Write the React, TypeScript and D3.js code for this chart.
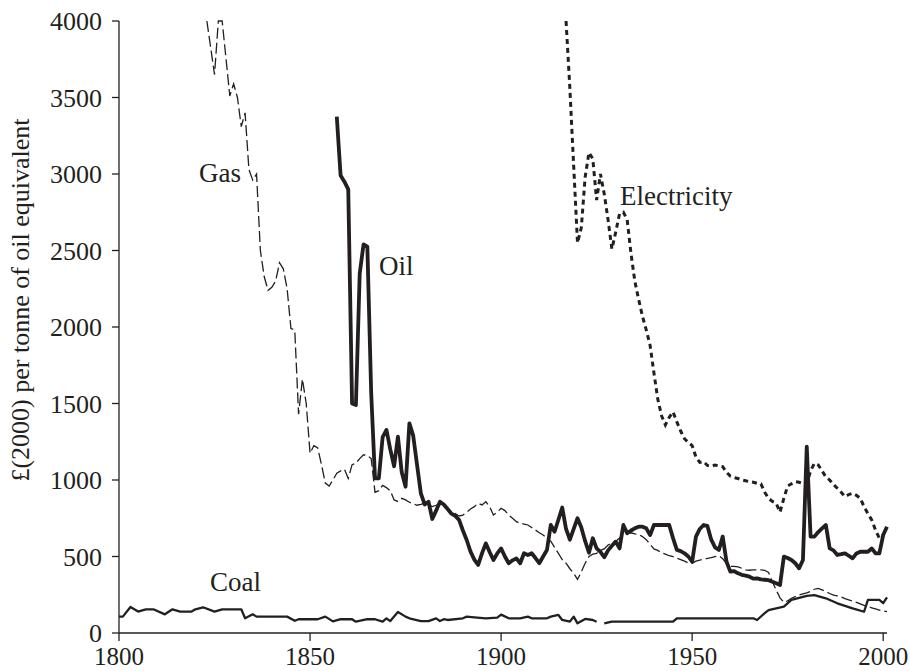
import React from "react";
import * as d3 from "d3";

const xTicks = [1800, 1850, 1900, 1950, 2000];
const yTicks = [0, 500, 1000, 1500, 2000, 2500, 3000, 3500, 4000];

const gasData: [number, number][] = [
  [1823, 4000], [1825, 3650], [1826, 4000], [1827, 4000], [1829, 3510], [1830, 3590], [1831, 3500],
  [1832, 3310], [1833, 3400], [1834, 3030], [1835, 2960], [1836, 3000], [1837, 2500], [1838, 2330],
  [1839, 2240], [1840, 2260], [1841, 2300], [1842, 2420], [1843, 2380], [1844, 2250], [1845, 1990],
  [1846, 1980], [1847, 1430], [1848, 1660], [1849, 1500], [1850, 1175], [1851, 1225], [1852, 1210],
  [1853, 1100], [1854, 980], [1855, 960], [1856, 1000], [1857, 1045], [1858, 1060], [1859, 1070],
  [1860, 1010], [1861, 1100], [1862, 1110], [1863, 1140], [1864, 1165], [1865, 1160], [1866, 1140],
  [1867, 920], [1868, 930], [1869, 965], [1870, 950], [1871, 930], [1872, 870], [1873, 860],
  [1874, 880], [1875, 870], [1876, 855], [1877, 845], [1878, 835], [1879, 840], [1880, 848],
  [1881, 838], [1882, 826], [1883, 835], [1884, 845], [1885, 840], [1886, 815], [1887, 795],
  [1888, 780], [1889, 765], [1890, 771], [1891, 790], [1892, 810], [1893, 826], [1894, 848],
  [1895, 837], [1896, 858], [1897, 826], [1898, 771], [1899, 790], [1900, 815], [1901, 800],
  [1902, 771], [1903, 750], [1904, 728], [1905, 717], [1906, 712], [1907, 706], [1908, 690],
  [1909, 673], [1910, 655], [1911, 641], [1912, 620], [1913, 600], [1914, 560], [1915, 520],
  [1916, 480], [1917, 456], [1918, 420], [1919, 390], [1920, 350], [1921, 400], [1922, 456],
  [1923, 500], [1924, 515], [1925, 521], [1926, 540], [1927, 550], [1928, 575], [1929, 590],
  [1930, 600], [1931, 620], [1932, 635], [1933, 652], [1934, 655], [1935, 648], [1936, 645],
  [1937, 630], [1938, 610], [1939, 580], [1940, 550], [1941, 540], [1942, 525], [1943, 515],
  [1944, 505], [1945, 499], [1946, 490], [1947, 480], [1948, 470], [1949, 458], [1950, 456],
  [1951, 470], [1952, 477], [1953, 482], [1954, 488], [1955, 492], [1956, 499], [1957, 505],
  [1958, 485], [1959, 455], [1960, 435], [1961, 435], [1962, 432], [1963, 423], [1964, 412],
  [1965, 410], [1966, 412], [1967, 412], [1968, 412], [1969, 410], [1970, 395], [1971, 335],
  [1972, 280], [1973, 230], [1974, 200], [1975, 210], [1976, 227], [1977, 238], [1978, 248],
  [1979, 255], [1980, 262], [1981, 272], [1982, 286], [1983, 292], [1984, 282], [1985, 270],
  [1986, 258], [1987, 248], [1988, 242], [1989, 236], [1990, 225], [1991, 216], [1992, 208],
  [1993, 200], [1994, 190], [1995, 180], [1996, 172], [1997, 165], [1998, 158], [1999, 150],
  [2000, 145], [2001, 139],
];

const oilData: [number, number][] = [
  [1857, 3375], [1858, 2990], [1859, 2950], [1860, 2900], [1861, 1500], [1862, 1490], [1863, 2350],
  [1864, 2540], [1865, 2525], [1866, 1570], [1867, 1011], [1868, 1011], [1869, 1280], [1870, 1327],
  [1871, 1200], [1872, 1090], [1873, 1283], [1874, 1050], [1875, 956], [1876, 1370], [1877, 1290],
  [1878, 1100], [1879, 913], [1880, 840], [1881, 858], [1882, 745], [1883, 800], [1884, 858],
  [1885, 840], [1886, 810], [1887, 780], [1888, 765], [1889, 739], [1890, 670], [1891, 608],
  [1892, 532], [1893, 480], [1894, 445], [1895, 520], [1896, 586], [1897, 530], [1898, 477],
  [1899, 520], [1900, 553], [1901, 500], [1902, 456], [1903, 475], [1904, 488], [1905, 456],
  [1906, 521], [1907, 510], [1908, 521], [1909, 490], [1910, 456], [1911, 500], [1912, 543],
  [1913, 706], [1914, 662], [1915, 740], [1916, 820], [1917, 680], [1918, 610], [1919, 680],
  [1920, 750], [1921, 690], [1922, 600], [1923, 525], [1924, 619], [1925, 553], [1926, 530],
  [1927, 495], [1928, 540], [1929, 570], [1930, 597], [1931, 553], [1932, 706], [1933, 652],
  [1934, 670], [1935, 684], [1936, 695], [1937, 695], [1938, 684], [1939, 640], [1940, 706],
  [1941, 706], [1942, 706], [1943, 706], [1944, 706], [1945, 620], [1946, 543], [1947, 535],
  [1948, 521], [1949, 500], [1950, 466], [1951, 630], [1952, 680], [1953, 706], [1954, 700],
  [1955, 610], [1956, 560], [1957, 543], [1958, 630], [1959, 466], [1960, 401], [1961, 405],
  [1962, 390], [1963, 380], [1964, 375], [1965, 368], [1966, 355], [1967, 357], [1968, 350],
  [1969, 348], [1970, 345], [1971, 335], [1972, 325], [1973, 314], [1974, 499], [1975, 490],
  [1976, 477], [1977, 456], [1978, 423], [1979, 477], [1980, 1218], [1981, 630], [1982, 630],
  [1983, 660], [1984, 684], [1985, 706], [1986, 553], [1987, 540], [1988, 510], [1989, 515],
  [1990, 521], [1991, 505], [1992, 488], [1993, 520], [1994, 531], [1995, 531], [1996, 531],
  [1997, 553], [1998, 521], [1999, 521], [2000, 640], [2001, 695],
];

const electricityData: [number, number][] = [
  [1917, 4000], [1918, 3560], [1919, 3050], [1920, 2550], [1921, 2650], [1922, 2980], [1923, 3140],
  [1924, 3100], [1925, 2830], [1926, 3000], [1927, 2870], [1928, 2700], [1929, 2510], [1930, 2620],
  [1931, 2740], [1932, 2750], [1933, 2700], [1934, 2480], [1935, 2300], [1936, 2180], [1937, 2070],
  [1938, 1980], [1939, 1880], [1940, 1700], [1941, 1530], [1942, 1420], [1943, 1360], [1944, 1410],
  [1945, 1445], [1946, 1380], [1947, 1320], [1948, 1270], [1949, 1245], [1950, 1225], [1951, 1150],
  [1952, 1115], [1953, 1120], [1954, 1095], [1955, 1090], [1956, 1098], [1957, 1092], [1958, 1087],
  [1959, 1050], [1960, 1025], [1961, 1015], [1962, 1010], [1963, 1000], [1964, 995], [1965, 989],
  [1966, 985], [1967, 978], [1968, 975], [1969, 920], [1970, 880], [1971, 860], [1972, 848],
  [1973, 790], [1974, 880], [1975, 960], [1976, 975], [1977, 989], [1978, 985], [1979, 978],
  [1980, 975], [1981, 1060], [1982, 1109], [1983, 1098], [1984, 1060], [1985, 1020], [1986, 1000],
  [1987, 970], [1988, 946], [1989, 920], [1990, 891], [1991, 905], [1992, 913], [1993, 900],
  [1994, 880], [1995, 826], [1996, 780], [1997, 739], [1998, 673], [1999, 620], [2000, 640],
];

const coalData: [number, number | null][] = [
  [1800, 107], [1801, 107], [1803, 170], [1805, 140], [1807, 155], [1809, 155], [1812, 122],
  [1814, 155], [1816, 140], [1819, 140], [1820, 155], [1822, 168], [1825, 140], [1827, 155],
  [1832, 155], [1833, 96], [1835, 122], [1836, 107], [1844, 107], [1846, 80], [1847, 90],
  [1852, 90], [1854, 107], [1856, 76], [1858, 90], [1861, 90], [1862, 74], [1865, 90],
  [1867, 90], [1869, 74], [1870, 96], [1871, 78], [1873, 137], [1875, 107], [1876, 96],
  [1879, 78], [1881, 78], [1883, 96], [1884, 78], [1885, 90], [1886, 85], [1890, 96],
  [1891, 107], [1893, 102], [1896, 96], [1899, 100], [1900, 120], [1902, 96], [1905, 96],
  [1907, 107], [1908, 96], [1912, 96], [1913, 107], [1915, 118], [1916, 85], [1918, 74],
  [1919, 107], [1920, 63], [1922, 92], [1924, 85], [1925, 74], [1926, null],
  [1927, 63], [1929, 74], [1945, 74], [1946, 96], [1966, 96], [1967, 85], [1969, 130],
  [1970, 150], [1974, 172], [1976, 216], [1980, 242], [1982, 248], [1985, 227], [1988, 194],
  [1992, 161], [1995, 139], [1996, 216], [1999, 216], [2000, 195], [2001, 233],
];

const INK = "#231f20";
const FONT = "'Liberation Serif', 'Times New Roman', serif";

export default function App() {
  const W = 910;
  const H = 671;
  const x = d3.scaleLinear().domain([1800, 2001]).range([119, 887]);
  const y = d3.scaleLinear().domain([0, 4000]).range([633, 21]);

  const line = d3
    .line<[number, number | null]>()
    .defined((d) => d[1] !== null)
    .x((d) => x(d[0]))
    .y((d) => y(d[1] as number));

  return (
    <svg
      width={W}
      height={H}
      style={{ position: "absolute", left: 0, top: 0, background: "#fff" }}
      fontFamily={FONT}
    >
      <rect x={0} y={0} width={W} height={H} fill="#fff" />
      {/* axes */}
      <line x1={x(1800)} x2={x(1800)} y1={y(4000)} y2={y(0)} stroke={INK} strokeWidth={1.3} />
      <line x1={x(1800)} x2={x(2001)} y1={y(0)} y2={y(0)} stroke={INK} strokeWidth={1.3} />
      {yTicks.map((t) => (
        <g key={"y" + t}>
          <line x1={x(1800) - 7} x2={x(1800)} y1={y(t)} y2={y(t)} stroke={INK} strokeWidth={1.3} />
          <text
            x={x(1800) - 17}
            y={y(t) + 9}
            textAnchor="end"
            fontSize={26}
            fill={INK}
          >
            {t}
          </text>
        </g>
      ))}
      {xTicks.map((t) => (
        <g key={"x" + t}>
          <line x1={x(t)} x2={x(t)} y1={y(0)} y2={y(0) + 8} stroke={INK} strokeWidth={1.3} />
          <text x={x(t)} y={665} textAnchor="middle" fontSize={25} fill={INK}>
            {t}
          </text>
        </g>
      ))}
      <text
        transform={`translate(29, 300) rotate(-90)`}
        textAnchor="middle"
        fontSize={26}
        fill={INK}
      >
        £(2000) per tonne of oil equivalent
      </text>

      {/* series */}
      <path d={line(coalData) || ""} fill="none" stroke={INK} strokeWidth={2.3} strokeLinejoin="round" />
      <path
        d={line(gasData) || ""}
        fill="none"
        stroke={INK}
        strokeWidth={1.3}
        strokeDasharray="11,4"
      />
      <path
        d={line(electricityData) || ""}
        fill="none"
        stroke={INK}
        strokeWidth={3}
        strokeDasharray="5,4"
      />
      <path d={line(oilData) || ""} fill="none" stroke={INK} strokeWidth={3.8} strokeLinejoin="round" />

      {/* labels */}
      <text x={199} y={182} fontSize={27} fill={INK}>Gas</text>
      <text x={379} y={275} fontSize={27} fill={INK}>Oil</text>
      <text x={620} y={205} fontSize={27} fill={INK}>Electricity</text>
      <text x={210} y={591} fontSize={27} fill={INK}>Coal</text>
    </svg>
  );
}
